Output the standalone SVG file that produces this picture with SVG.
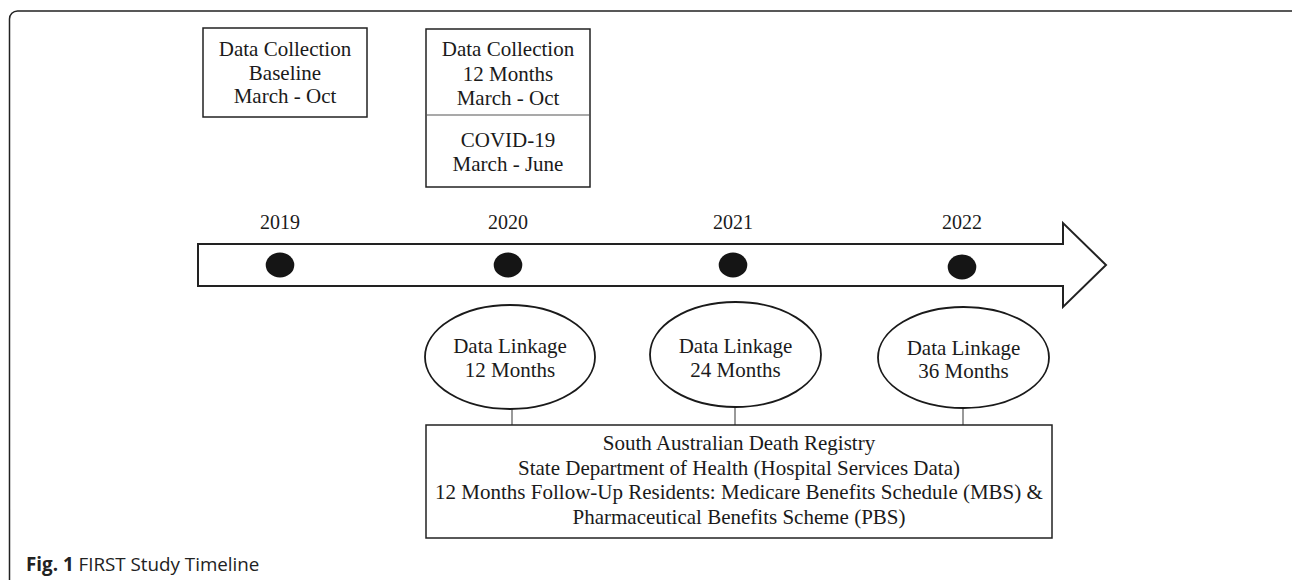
<svg xmlns="http://www.w3.org/2000/svg" width="1292" height="580" viewBox="0 0 1292 580">
<style>
.t{font-family:"Liberation Serif","Times New Roman",serif;font-size:21px;fill:#1a1a1a;text-anchor:middle}
.yr{font-family:"Liberation Serif","Times New Roman",serif;font-size:20px;fill:#1a1a1a;text-anchor:middle}
.box{fill:#fff;stroke:#222;stroke-width:1.5}
.ell{fill:#fff;stroke:#1a1a1a;stroke-width:1.8}
.dot{fill:#151515}
.conn{stroke:#555;stroke-width:1.2;fill:none}
.cap{font-family:"Open Sans","Noto Sans",sans-serif;font-size:18.8px;fill:#222}
</style>
<rect width="1292" height="580" fill="#fff"/>
<rect x="9.5" y="11" width="1290" height="600" rx="8" fill="none" stroke="#222" stroke-width="1.5"/>

<g id="box-baseline">
<rect class="box" x="203" y="28" width="164" height="89"/>
<text class="t" x="285" y="56">Data Collection</text>
<text class="t" x="285" y="80">Baseline</text>
<text class="t" x="285" y="103">March - Oct</text>
</g>

<g id="box-12months">
<rect class="box" x="426" y="29" width="164" height="158"/>
<line x1="426" y1="115" x2="590" y2="115" stroke="#555" stroke-width="1.2"/>
<text class="t" x="508" y="56">Data Collection</text>
<text class="t" x="508" y="81">12 Months</text>
<text class="t" x="508" y="105">March - Oct</text>
<text class="t" x="508" y="147">COVID-19</text>
<text class="t" x="508" y="171">March - June</text>
</g>

<g id="timeline">
<path d="M198 244 H1063 V223 L1106 265 L1063 307 V286 H198 Z" fill="#fff" stroke="#222" stroke-width="2"/>
<text class="yr" x="280" y="229">2019</text>
<text class="yr" x="508" y="229">2020</text>
<text class="yr" x="733" y="229">2021</text>
<text class="yr" x="962" y="229">2022</text>
<ellipse class="dot" cx="280" cy="265" rx="14.3" ry="12.5"/>
<ellipse class="dot" cx="508" cy="265" rx="14.3" ry="12.5"/>
<ellipse class="dot" cx="733" cy="265" rx="14.3" ry="12.5"/>
<ellipse class="dot" cx="962" cy="267" rx="14.3" ry="12.5"/>
</g>

<g id="connectors">
<line class="conn" x1="512" y1="409" x2="512" y2="425"/>
<line class="conn" x1="735" y1="407" x2="735" y2="425"/>
<line class="conn" x1="963" y1="408" x2="963" y2="425"/>
</g>

<g id="link-12">
<ellipse class="ell" cx="510" cy="357" rx="85" ry="52"/>
<text class="t" x="510" y="353">Data Linkage</text>
<text class="t" x="510" y="377">12 Months</text>
</g>
<g id="link-24">
<ellipse class="ell" cx="735.5" cy="354.5" rx="85.5" ry="52.5"/>
<text class="t" x="735.5" y="353">Data Linkage</text>
<text class="t" x="735.5" y="377">24 Months</text>
</g>
<g id="link-36">
<ellipse class="ell" cx="963.5" cy="357.5" rx="85.5" ry="50.5"/>
<text class="t" x="963.5" y="355">Data Linkage</text>
<text class="t" x="963.5" y="378">36 Months</text>
</g>

<g id="data-sources">
<rect class="box" x="426" y="425" width="626" height="113"/>
<text class="t" x="739" y="450">South Australian Death Registry</text>
<text class="t" x="739" y="474.5">State Department of Health (Hospital Services Data)</text>
<text class="t" x="739" y="499">12 Months Follow-Up Residents: Medicare Benefits Schedule (MBS) &amp;</text>
<text class="t" x="739" y="523.5">Pharmaceutical Benefits Scheme (PBS)</text>
</g>

<text class="cap" x="26" y="571"><tspan font-weight="bold">Fig. 1</tspan> FIRST Study Timeline</text>
</svg>
